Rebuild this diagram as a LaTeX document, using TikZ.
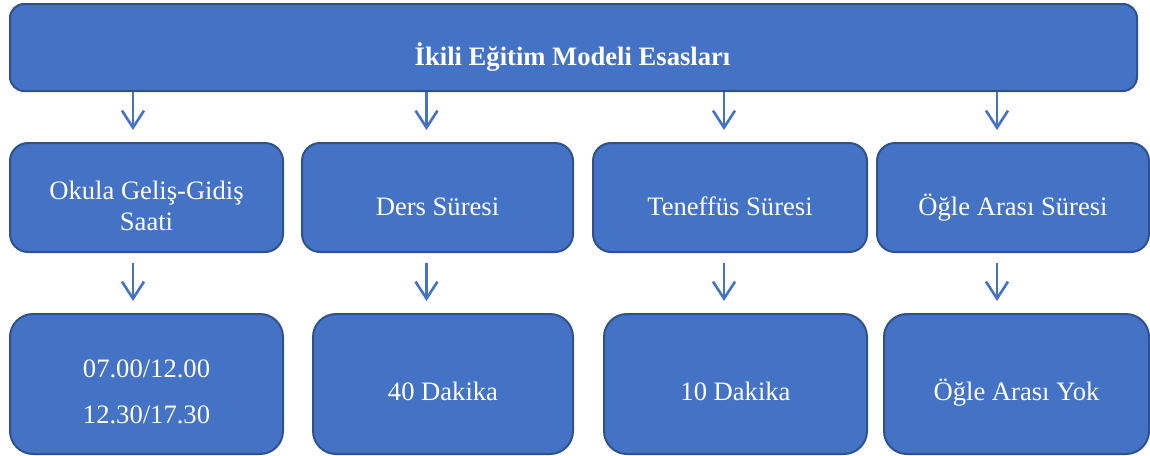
\documentclass[tikz,border=0pt]{standalone}
\usepackage{fontspec}
\setmainfont{Liberation Serif}
\usetikzlibrary{arrows.meta,calc}
\definecolor{boxfill}{HTML}{4472C4}
\definecolor{boxline}{HTML}{2F528F}
\begin{document}
\begin{tikzpicture}[x=1pt,y=-1pt,
  box/.style={draw=boxline, fill=boxfill, line width=2pt, rectangle, anchor=north west, inner sep=0pt},
  txt/.style={text=white, font=\fontsize{26.6}{30.6}\selectfont, anchor=base, inner sep=0pt, align=center},
  conn/.style={draw=boxfill, line width=2.6pt, -{Straight Barb[length=17pt,width=22pt,line width=2.6pt]}}]
\useasboundingbox (0,0) rectangle (1150,455);
% top
\node[box, rounded corners=14pt, minimum width=1127pt, minimum height=87pt] (top) at (9,3) {};
% row 2
\node[box, rounded corners=18pt, minimum width=273pt, minimum height=109pt] (ra) at (9,142) {};
\node[box, rounded corners=18pt, minimum width=271pt, minimum height=109pt] (rb) at (301,142) {};
\node[box, rounded corners=18pt, minimum width=274pt, minimum height=109pt] (rc) at (592,142) {};
\node[box, rounded corners=18pt, minimum width=272pt, minimum height=109pt] (rd) at (876,142) {};
% row 3
\node[box, rounded corners=23pt, minimum width=273pt, minimum height=140pt] (sa) at (9,313) {};
\node[box, rounded corners=23pt, minimum width=260pt, minimum height=140pt] (sb) at (312,313) {};
\node[box, rounded corners=23pt, minimum width=263pt, minimum height=140pt] (sc) at (603,313) {};
\node[box, rounded corners=23pt, minimum width=265pt, minimum height=140pt] (sd) at (883,313) {};
% texts
\node[txt] (t0) at (572.5,65) {\bfseries İkili Eğitim Modeli Esasları};
\node[txt] (ta) at (ra.center |- 0,230) {Okula Geliş-Gidiş\\Saati};
\node[txt] (tb) at (rb.center |- 0,215) {Ders Süresi};
\node[txt] (tc) at (rc.center |- 0,215) {Teneffüs Süresi};
\node[txt] (td) at (rd.center |- 0,215) {Öğle Arası Süresi};
\node[txt] (ua) at (sa.center |- 0,423) {07.00/12.00\\[15.4pt]12.30/17.30};
\node[txt] (ub) at (sb.center |- 0,400) {40 Dakika};
\node[txt] (uc) at (sc.center |- 0,400) {10 Dakika};
\node[txt] (ud) at (sd.center |- 0,400) {Öğle Arası Yok};
% arrow columns
\coordinate (c1) at (133,0);
\coordinate (c2) at (426.5,0);
\coordinate (c3) at (724,0);
\coordinate (c4) at (997,0);
\draw[conn] (top.south -| c1) -- ($(ra.north -| c1)+(0,-12)$);
\draw[conn] (top.south -| c2) -- ($(rb.north -| c2)+(0,-12)$);
\draw[conn] (top.south -| c3) -- ($(rc.north -| c3)+(0,-12)$);
\draw[conn] (top.south -| c4) -- ($(rd.north -| c4)+(0,-12)$);
\draw[conn] ($(ra.south -| c1)+(0,10)$) -- ($(sa.north -| c1)+(0,-12)$);
\draw[conn] ($(rb.south -| c2)+(0,10)$) -- ($(sb.north -| c2)+(0,-12)$);
\draw[conn] ($(rc.south -| c3)+(0,10)$) -- ($(sc.north -| c3)+(0,-12)$);
\draw[conn] ($(rd.south -| c4)+(0,10)$) -- ($(sd.north -| c4)+(0,-12)$);
\end{tikzpicture}
\end{document}
